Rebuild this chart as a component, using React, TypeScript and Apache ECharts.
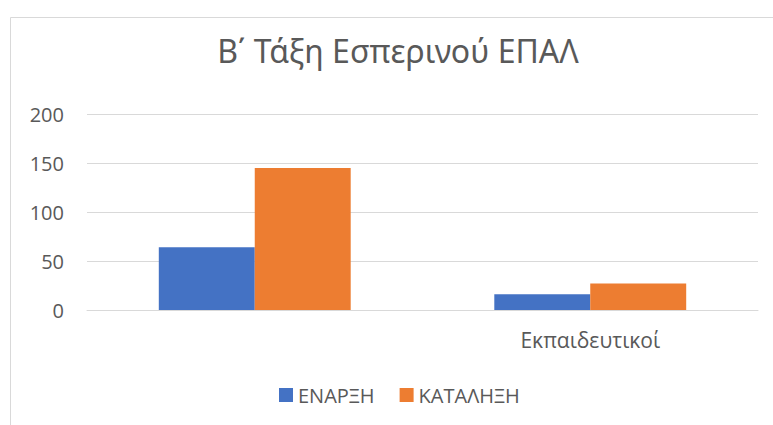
import React, { useEffect, useRef } from "react";
import * as echarts from "echarts";

const titleText = "Β΄ Τάξη Εσπερινού ΕΠΑΛ";
const categories = ["", "Εκπαιδευτικοί"];
const seriesNames = ["ΕΝΑΡΞΗ", "ΚΑΤΑΛΗΞΗ"];
const enarxiValues = [64, 16];
const katalixiValues = [145, 27];
const yMin = 0;
const yMax = 200;
const yStep = 50;

const FONT = "'Open Sans', 'Noto Sans', sans-serif";
const TITLE_FONT = "'Noto Sans', 'Open Sans', sans-serif";
const TEXT_COLOR = "#595959";
const LINE_COLOR = "#d9d9d9";

export default function App() {
  const ref = useRef<HTMLDivElement>(null);

  useEffect(() => {
    if (!ref.current) return;
    const chart = echarts.init(ref.current, undefined, { renderer: "svg" });
    chart.setOption({
      animation: false,
      backgroundColor: "#ffffff",
      textStyle: { fontFamily: FONT },
      graphic: [
        {
          type: "rect",
          shape: { x: 10.5, y: 17.5, width: 800, height: 450 },
          style: { fill: "none", stroke: LINE_COLOR, lineWidth: 1 },
          silent: true,
        },
        {
          type: "text",
          x: 398,
          y: 34,
          style: {
            text: titleText,
            fill: TEXT_COLOR,
            font: `32px ${TITLE_FONT}`,
            textAlign: "center",
            textVerticalAlign: "top",
          },
        },
      ],
      grid: { left: 87, top: 114, width: 671, height: 196 },
      legend: {
        data: seriesNames,
        icon: "rect",
        itemWidth: 14,
        itemHeight: 14,
        itemGap: 25,
        left: 274,
        top: 380,
        textStyle: { fontSize: 20, color: TEXT_COLOR, fontFamily: FONT },
      },
      xAxis: {
        type: "category",
        data: categories,
        axisLine: { show: true, lineStyle: { color: LINE_COLOR, width: 1 } },
        axisTick: { show: false },
        axisLabel: { color: TEXT_COLOR, fontSize: 21, margin: 19, fontFamily: FONT },
      },
      yAxis: {
        type: "value",
        min: yMin,
        max: yMax,
        interval: yStep,
        axisLine: { show: false },
        axisTick: { show: false },
        splitLine: { lineStyle: { color: LINE_COLOR, width: 1 } },
        axisLabel: { color: TEXT_COLOR, fontSize: 20, margin: 23, fontFamily: FONT },
      },
      series: [
        {
          name: seriesNames[0],
          type: "bar",
          data: enarxiValues,
          itemStyle: { color: "#4472C4" },
          barGap: "0%",
          barCategoryGap: "42.8%",
        },
        {
          name: seriesNames[1],
          type: "bar",
          data: katalixiValues,
          itemStyle: { color: "#ED7D31" },
          barGap: "0%",
          barCategoryGap: "42.8%",
        },
      ],
    });
    return () => chart.dispose();
  }, []);

  return (
    <div
      ref={ref}
      style={{ position: "fixed", left: 0, top: 0, width: 773, height: 425 }}
    />
  );
}
